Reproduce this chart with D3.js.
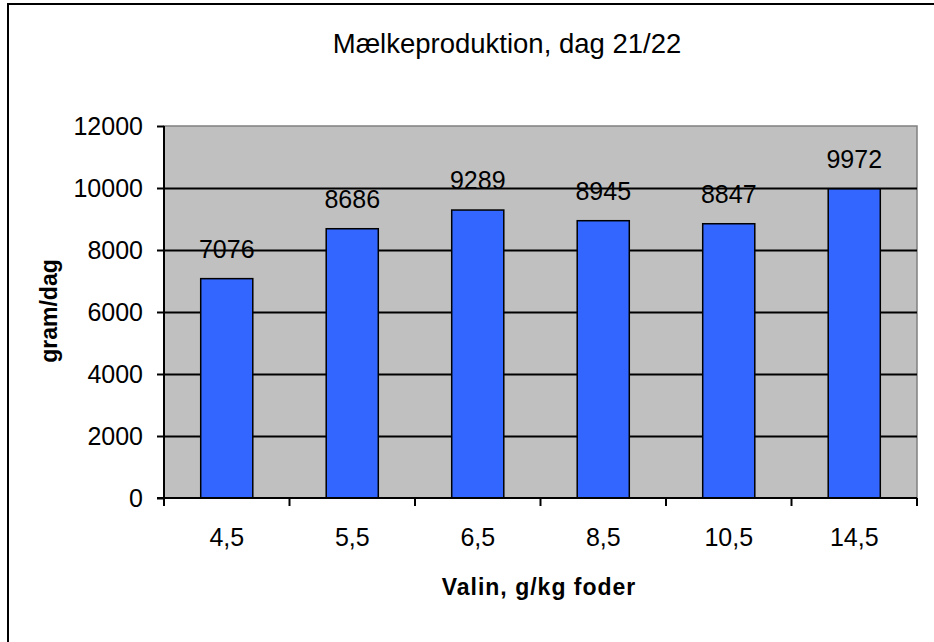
<!DOCTYPE html>
<html>
<head>
<meta charset="utf-8">
<script src="https://cdn.jsdelivr.net/npm/d3@7"></script>
<style>
  html, body { margin: 0; padding: 0; background: #fff; overflow: hidden; }
  text { font-family: "Liberation Sans", Arial, sans-serif; fill: #000; }
</style>
</head>
<body>
<div id="chart"></div>
<script>
const categories = ["4,5", "5,5", "6,5", "8,5", "10,5", "14,5"];
const milk = [7076, 8686, 9289, 8945, 8847, 9972];
const yTicks = [0, 2000, 4000, 6000, 8000, 10000, 12000];
const title = "Mælkeproduktion, dag 21/22";
const xTitle = "Valin, g/kg foder";
const yTitle = "gram/dag";

const W = 934, H = 642;
const plot = { left: 164, right: 917, top: 126, bottom: 498 };

const svg = d3.select("#chart").append("svg")
    .attr("width", W)
    .attr("height", H);

// outer chart frame (right and bottom edges fall outside the picture)
svg.append("rect")
    .attr("x", 8).attr("y", 4)
    .attr("width", W + 20).attr("height", H + 20)
    .attr("fill", "#fff")
    .attr("stroke", "#000")
    .attr("stroke-width", 2);

const data = categories.map((c, i) => ({ cat: c, value: milk[i] }));

const x = d3.scaleBand()
    .domain(categories)
    .range([plot.left, plot.right])
    .paddingInner(0.585)
    .paddingOuter(0.2925);

const xEdge = d3.scaleBand()
    .domain(categories)
    .range([plot.left, plot.right])
    .padding(0);

const y = d3.scaleLinear()
    .domain([0, 12000])
    .range([plot.bottom, plot.top]);

// plot area
svg.append("rect")
    .attr("x", plot.left).attr("y", plot.top)
    .attr("width", plot.right - plot.left)
    .attr("height", plot.bottom - plot.top)
    .attr("fill", "#c0c0c0")
    .attr("stroke", "#808080")
    .attr("stroke-width", 1.5);

// gridlines
svg.append("g")
    .attr("transform", `translate(${plot.left},0)`)
    .call(d3.axisLeft(y).tickValues(yTicks.filter(d => d > 0 && d < 12000))
        .tickSize(-(plot.right - plot.left)).tickFormat(""))
    .call(g => g.select(".domain").remove())
    .selectAll(".tick line")
    .attr("stroke", "#000")
    .attr("stroke-width", 2);

// bars
svg.selectAll(".bar")
    .data(data)
    .enter()
    .append("rect")
    .attr("class", "bar")
    .attr("x", d => x(d.cat))
    .attr("y", d => y(d.value))
    .attr("width", x.bandwidth())
    .attr("height", d => y(0) - y(d.value))
    .attr("fill", "#3366ff")
    .attr("stroke", "#000")
    .attr("stroke-width", 1.5);

// value labels
svg.selectAll(".lbl")
    .data(data)
    .enter()
    .append("text")
    .attr("class", "lbl")
    .attr("x", d => x(d.cat) + x.bandwidth() / 2)
    .attr("y", d => y(d.value) - 21)
    .attr("text-anchor", "middle")
    .style("font-size", "25px")
    .text(d => d.value);

// y axis
const yAxis = svg.append("g")
    .attr("transform", `translate(${plot.left},0)`)
    .call(d3.axisLeft(y).tickValues(yTicks).tickSize(7).tickPadding(14).tickFormat(d => d));
yAxis.select(".domain").attr("stroke", "#000").attr("stroke-width", 2)
    .attr("d", `M0,${plot.top}V${plot.bottom}`);
yAxis.selectAll(".tick line").attr("stroke", "#000").attr("stroke-width", 2);
yAxis.selectAll(".tick text")
    .style("font-size", "25px")
    .style("font-family", "'Liberation Sans', Arial, sans-serif")
    .attr("fill", "#000");

// x axis
const xAxis = svg.append("g")
    .attr("transform", `translate(0,${plot.bottom})`)
    .call(d3.axisBottom(x).tickSize(0).tickPadding(30));
xAxis.select(".domain").remove();
xAxis.selectAll(".tick text")
    .style("font-size", "25px")
    .style("font-family", "'Liberation Sans', Arial, sans-serif")
    .attr("fill", "#000");

svg.append("line")
    .attr("x1", plot.left - 7).attr("x2", plot.right)
    .attr("y1", plot.bottom).attr("y2", plot.bottom)
    .attr("stroke", "#000").attr("stroke-width", 2);

const edges = categories.map(c => xEdge(c)).concat([plot.right]);
svg.selectAll(".xtick")
    .data(edges)
    .enter()
    .append("line")
    .attr("x1", d => d).attr("x2", d => d)
    .attr("y1", plot.bottom).attr("y2", plot.bottom + 8)
    .attr("stroke", "#000").attr("stroke-width", 2);

// titles
svg.append("text")
    .attr("x", 507).attr("y", 53)
    .attr("text-anchor", "middle")
    .style("font-size", "27.5px")
    .text(title);

svg.append("text")
    .attr("x", 539).attr("y", 595)
    .attr("text-anchor", "middle")
    .style("font-size", "23px")
    .style("font-weight", "bold")
    .style("letter-spacing", "1px")
    .text(xTitle);

svg.append("text")
    .attr("transform", `translate(57,311) rotate(-90)`)
    .attr("text-anchor", "middle")
    .style("font-size", "23px")
    .style("font-weight", "bold")
    .text(yTitle);
</script>
</body>
</html>
